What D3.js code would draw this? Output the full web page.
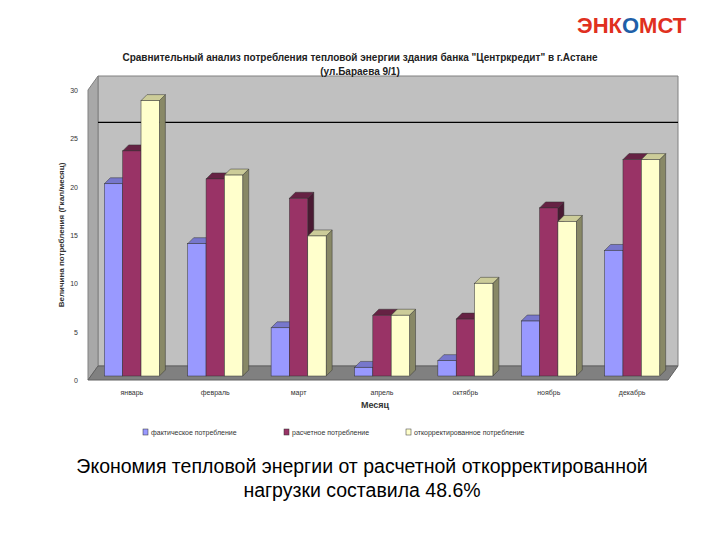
<!DOCTYPE html>
<html>
<head>
<meta charset="utf-8">
<script src="https://d3js.org/d3.v7.min.js"></script>
<style>
  html, body { margin: 0; padding: 0; background: #fff; }
  text { font-family: "Liberation Sans", Arial, sans-serif; }
</style>
</head>
<body>
<svg id="chart" width="720" height="540"></svg>
<script>
const months = ["январь", "февраль", "март", "апрель", "октябрь", "ноябрь", "декабрь"];
const seriesNames = ["фактическое потребление", "расчетное потребление", "откорректированное потребление"];
const actual = [20.3, 14.1, 5.4, 1.3, 2.0, 6.1, 13.4];
const calculated = [23.7, 20.8, 18.8, 6.7, 6.3, 17.8, 22.8];
const corrected = [28.9, 21.2, 14.9, 6.7, 10.0, 16.4, 22.8];
const yTicks = [0, 5, 10, 15, 20, 25, 30];

const series = [actual, calculated, corrected];
const fronts = ["#9999ff", "#993366", "#ffffcc"];
const tops = ["#7777cc", "#662244", "#cccc99"];
const sides = ["#55558f", "#4a1a33", "#888866"];

const svg = d3.select("#chart");
const pLeft = 96, pRight = 668, pTop = 90, pBottom = 380;
const dx = 10, dy = 14; // depth offset of the back wall

const y = d3.scaleLinear().domain([0, 30]).range([pBottom, pTop]);
const x0 = d3.scaleBand().domain(months).range([pLeft, pRight]).paddingInner(0.34).paddingOuter(0.1);
const x1 = d3.scaleBand().domain([0, 1, 2]).range([0, x0.bandwidth()]);

// back wall
svg.append("polygon")
  .attr("points", [[pLeft + dx - 8, pTop - dy], [pRight + dx, pTop - dy], [pRight + dx, pBottom - dy], [pLeft + dx - 8, pBottom - dy]].join(" "))
  .attr("fill", "#c0c0c0").attr("stroke", "#808080");
// left wall
svg.append("polygon")
  .attr("points", [[pLeft - 8, pTop], [pLeft + dx - 8, pTop - dy], [pLeft + dx - 8, pBottom - dy], [pLeft - 8, pBottom]].join(" "))
  .attr("fill", "#a8a8a8").attr("stroke", "#808080");
// floor
svg.append("polygon")
  .attr("points", [[pLeft - 8, pBottom], [pLeft + dx - 8, pBottom - dy], [pRight + dx, pBottom - dy], [pRight, pBottom]].join(" "))
  .attr("fill", "#808080").attr("stroke", "#606060");
// gridline at 25 on back wall
svg.append("line")
  .attr("x1", pLeft + dx - 8).attr("x2", pRight + dx)
  .attr("y1", y(25) - dy - 2).attr("y2", y(25) - dy - 2)
  .attr("stroke", "#000").attr("stroke-width", 1.2);

// y axis labels
svg.selectAll(".ytick").data(yTicks).enter().append("text")
  .attr("x", pLeft - 18).attr("y", d => y(d) + 3)
  .attr("text-anchor", "end").attr("font-size", 7).attr("fill", "#333")
  .text(d => d);

// bars
const bd = 6;
months.forEach((m, i) => {
  series.forEach((s, k) => {
    const bx = x0(m) + x1(k), bw = x1.bandwidth(), by = y(s[i]), bb = pBottom - 4;
    const g = svg.append("g");
    g.append("polygon")
      .attr("points", [[bx + bw, by], [bx + bw + bd, by - bd], [bx + bw + bd, bb - bd], [bx + bw, bb]].join(" "))
      .attr("fill", sides[k]).attr("stroke", "#333").attr("stroke-width", 0.5);
    g.append("polygon")
      .attr("points", [[bx, by], [bx + bd, by - bd], [bx + bw + bd, by - bd], [bx + bw, by]].join(" "))
      .attr("fill", tops[k]).attr("stroke", "#333").attr("stroke-width", 0.5);
    g.append("rect")
      .attr("x", bx).attr("y", by).attr("width", bw).attr("height", bb - by)
      .attr("fill", fronts[k]).attr("stroke", "#333").attr("stroke-width", 0.5);
  });
});

// x labels
svg.selectAll(".xlab").data(months).enter().append("text")
  .attr("x", d => x0(d) + x0.bandwidth() / 2).attr("y", 395)
  .attr("text-anchor", "middle").attr("font-size", 7).attr("fill", "#333")
  .text(d => d);

svg.append("text").attr("x", 375).attr("y", 408).attr("text-anchor", "middle")
  .attr("font-size", 9).attr("font-weight", "bold").attr("fill", "#333").text("Месяц");

svg.append("text")
  .attr("transform", "translate(64,235) rotate(-90)")
  .attr("text-anchor", "middle").attr("font-size", 8).attr("font-weight", "bold").attr("fill", "#333")
  .text("Величина потребления (Гкал/месяц)");

// titles
svg.append("text").attr("x", 360).attr("y", 61).attr("text-anchor", "middle")
  .attr("font-size", 10).attr("font-weight", "bold").attr("fill", "#222")
  .text("Сравнительный анализ потребления тепловой энергии здания банка \"Центркредит\" в г.Астане");
svg.append("text").attr("x", 360).attr("y", 75).attr("text-anchor", "middle")
  .attr("font-size", 10).attr("font-weight", "bold").attr("fill", "#222")
  .text("(ул.Бараева 9/1)");

// legend
const legX = [143, 284, 406];
seriesNames.forEach((n, k) => {
  svg.append("rect").attr("x", legX[k]).attr("y", 429).attr("width", 5).attr("height", 6)
    .attr("fill", fronts[k]).attr("stroke", "#333").attr("stroke-width", 0.5);
  svg.append("text").attr("x", legX[k] + 8).attr("y", 435)
    .attr("font-size", 7).attr("fill", "#333").text(n);
});

// logo
const logo = svg.append("text").attr("x", 577).attr("y", 33).attr("font-size", 22)
  .attr("font-weight", "bold");
logo.append("tspan").attr("fill", "#e03020").text("ЭНК");
logo.append("tspan").attr("fill", "#1f5fa8").text("О");
logo.append("tspan").attr("fill", "#e03020").text("МСТ");

// footer
svg.append("text").attr("x", 362).attr("y", 473).attr("text-anchor", "middle")
  .attr("font-size", 19.5).attr("fill", "#000")
  .text("Экономия тепловой энергии от расчетной откорректированной");
svg.append("text").attr("x", 362).attr("y", 497).attr("text-anchor", "middle")
  .attr("font-size", 19.5).attr("fill", "#000")
  .text("нагрузки составила 48.6%");
</script>
</body>
</html>
